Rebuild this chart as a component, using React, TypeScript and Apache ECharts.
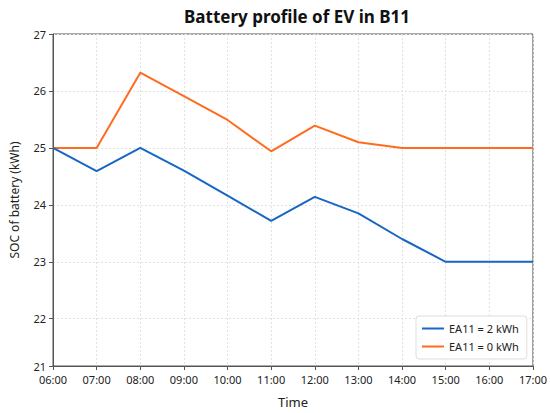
import React, { useEffect, useRef } from "react";
import * as echarts from "echarts";

const hours = ["06:00", "07:00", "08:00", "09:00", "10:00", "11:00", "12:00", "13:00", "14:00", "15:00", "16:00", "17:00"];
const ea2 = [25.0, 24.59, 25.0, 24.6, 24.16, 23.72, 24.14, 23.85, 23.4, 23.0, 23.0, 23.0];
const ea0 = [25.0, 25.0, 26.32, 25.91, 25.49, 24.94, 25.39, 25.1, 25.0, 25.0, 25.0, 25.0];
const seriesNames = ["EA11 = 2 kWh", "EA11 = 0 kWh"];
const colors = ["#1866c3", "#ff6c1e"];

const FONT = "Noto Sans";

export default function App() {
  const ref = useRef<HTMLDivElement>(null);
  useEffect(() => {
    document.body.style.margin = "0";
    const chart = echarts.init(ref.current!, null, { renderer: "svg" });
    chart.setOption({
      animation: false,
      backgroundColor: "#ffffff",
      textStyle: { fontFamily: FONT },
      title: {
        text: "Battery profile of EV in B11",
        left: 292,
        top: 3,
        textAlign: "center",
        textStyle: { fontFamily: FONT, fontWeight: "bold", fontSize: 17, color: "#111" },
      },
      grid: {
        left: 47,
        right: 17,
        top: 34,
        bottom: 43,
        show: true,
        borderColor: "#555",
        borderWidth: 1,
      },
      legend: {
        orient: "vertical",
        left: 416,
        top: 316,
        padding: [6, 8, 6, 6],
        backgroundColor: "#fff",
        borderColor: "#ddd",
        borderWidth: 1,
        borderRadius: 3,
        itemWidth: 22,
        itemHeight: 2,
        itemGap: 5,
        icon: "rect",
        textStyle: { fontFamily: FONT, fontSize: 11, color: "#222", lineHeight: 13 },
        data: seriesNames,
      },
      xAxis: {
        type: "category",
        data: hours,
        boundaryGap: false,
        name: "Time",
        nameLocation: "middle",
        nameGap: 29,
        nameTextStyle: { fontFamily: FONT, fontSize: 13, color: "#222" },
        axisLine: { lineStyle: { color: "#555", width: 1 } },
        axisTick: { show: true, length: 4, lineStyle: { color: "#555" } },
        axisLabel: { fontFamily: FONT, fontSize: 11, color: "#222", margin: 8 },
        splitLine: { show: true, lineStyle: { color: "#e2e2e2", type: [2, 2], width: 1 } },
      },
      yAxis: {
        type: "value",
        min: 21.17,
        max: 27,
        splitNumber: 6,
        name: "SOC of battery (kWh)",
        nameLocation: "middle",
        nameGap: 33,
        nameTextStyle: { fontFamily: FONT, fontSize: 12, color: "#222" },
        axisLine: { show: true, lineStyle: { color: "#555", width: 1 } },
        axisTick: { show: true, length: 4, lineStyle: { color: "#555" } },
        axisLabel: {
          fontFamily: FONT,
          fontSize: 11,
          color: "#222",
          margin: 7,
          showMinLabel: true,
          formatter: (v: number) => String(Math.round(v)),
        },
        splitLine: { show: true, lineStyle: { color: "#e2e2e2", type: [2, 2], width: 1 } },
      },
      series: [
        {
          name: seriesNames[0],
          type: "line",
          data: ea2,
          symbol: "none",
          color: colors[0],
          lineStyle: { width: 2, color: colors[0] },
          z: 3,
        },
        {
          name: seriesNames[1],
          type: "line",
          data: ea0,
          symbol: "none",
          color: colors[1],
          lineStyle: { width: 2, color: colors[1] },
          z: 2,
        },
      ],
    });
    return () => chart.dispose();
  }, []);
  return <div ref={ref} style={{ width: 550, height: 413 }} />;
}
